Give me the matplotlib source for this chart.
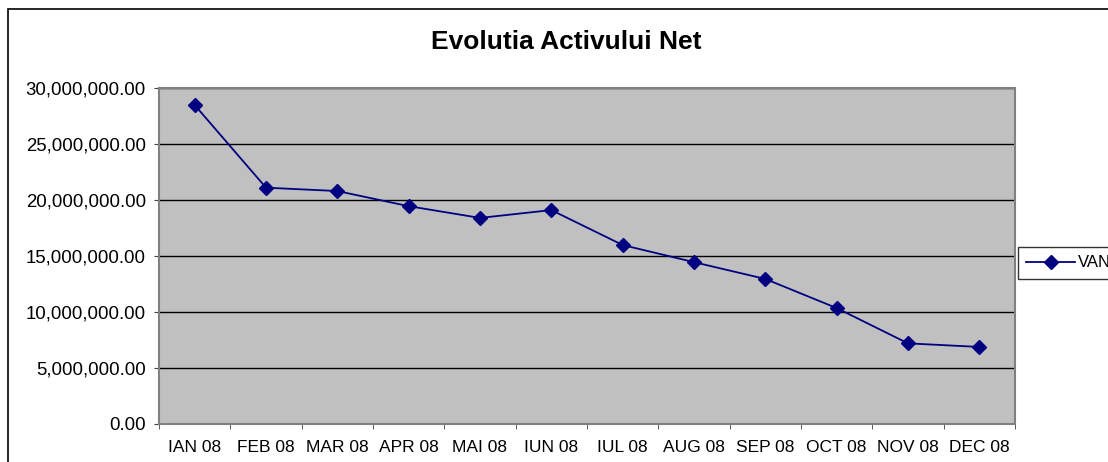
import matplotlib.pyplot as plt
from matplotlib.patches import Rectangle
from matplotlib.ticker import FuncFormatter
import numpy as np

plt.rcParams['font.family'] = ['Liberation Sans', 'DejaVu Sans']

months = ["IAN 08", "FEB 08", "MAR 08", "APR 08", "MAI 08", "IUN 08",
          "IUL 08", "AUG 08", "SEP 08", "OCT 08", "NOV 08", "DEC 08"]
van = [28.48e6, 21.1e6, 20.8e6, 19.45e6, 18.4e6, 19.1e6,
       15.98e6, 14.45e6, 12.95e6, 10.35e6, 7.2e6, 6.88e6]

fig = plt.figure(figsize=(11.08, 4.62), dpi=100)
ax = fig.add_axes([159 / 1108, 1 - 424 / 462, (1015 - 159) / 1108, (424 - 88) / 462])

# outer chart border
fig.patches.append(Rectangle((8 / 1108, -0.1), 1.2, 1.1 - 9 / 462,
                             transform=fig.transFigure, fill=False,
                             edgecolor='black', linewidth=1.2))

ax.set_facecolor('#C0C0C0')
x = np.arange(len(months))
ax.plot(x, van, color='#000080', marker='D', markersize=7, linewidth=1.3,
        label='VAN', zorder=3)

ax.set_xlim(-0.5, len(months) - 0.5)
ax.set_ylim(0, 30e6)
ax.set_yticks(np.arange(0, 30e6 + 1, 5e6))
ax.yaxis.set_major_formatter(FuncFormatter(lambda v, p: f"{v:,.2f}"))
ax.grid(axis='y', color='black', linewidth=1)
ax.set_axisbelow(True)

ax.set_xticks(x)
ax.set_xticklabels(months)
ax.set_xticks(np.arange(-0.5, len(months)), minor=True)
ax.tick_params(axis='x', which='major', length=0, pad=11.3, labelsize=12.5)
ax.tick_params(axis='x', which='minor', length=3.6, color='#404040', direction='out')
ax.tick_params(axis='y', length=3.6, color='#404040', labelsize=13.4, pad=5.8)

for s in ax.spines.values():
    s.set_color('#808080')
    s.set_linewidth(1.5)

fig.text(566 / 1108, 1 - 42 / 462, "Evolutia Activului Net", ha='center',
         va='center', fontsize=19, fontweight='bold')

# legend runs off the right edge, as in the original
fig.legend(loc='upper left', bbox_to_anchor=(1018 / 1108, 1 - 247 / 462),
           frameon=True, fancybox=False, edgecolor='black', fontsize=12,
           handlelength=2.9, handletextpad=0.2, borderpad=0.5,
           borderaxespad=0)

fig.savefig('out.png', dpi=100)
